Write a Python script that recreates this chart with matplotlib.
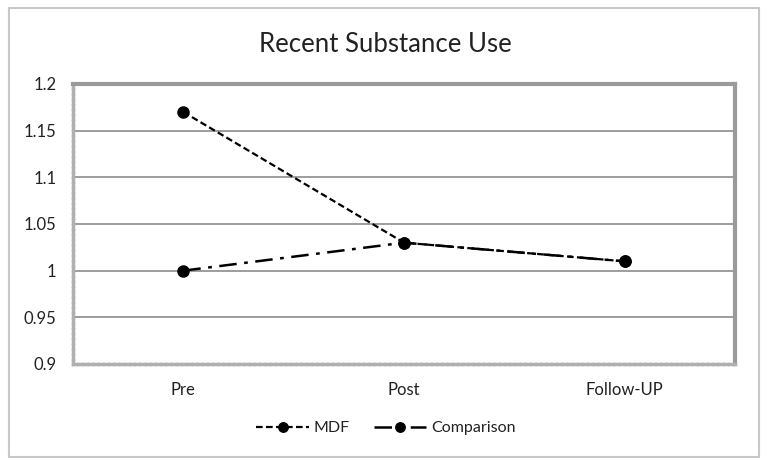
import matplotlib
matplotlib.use("Agg")
import matplotlib.pyplot as plt
from matplotlib.patches import Rectangle

categories = ["Pre", "Post", "Follow-UP"]
mdf = [1.17, 1.03, 1.01]
comparison = [1.00, 1.03, 1.01]
yticks = [0.9, 0.95, 1.0, 1.05, 1.1, 1.15, 1.2]
ytick_labels = ["0.9", "0.95", "1", "1.05", "1.1", "1.15", "1.2"]

plt.rcParams['font.family'] = ['Lato', 'DejaVu Sans']

fig = plt.figure(figsize=(7.69, 4.67), dpi=100)
fig.patches.append(Rectangle((9/769, 10/467), 750/769, 449/467, transform=fig.transFigure,
                             fill=False, edgecolor='#c8c8c8', linewidth=1.5))
ax = fig.add_axes([73/769, 1 - 364/467, 662/769, 280/467])

x = list(range(len(categories)))
ax.plot(x, comparison, color='black', linewidth=1.8, marker='o', markersize=8,
        dashes=(7, 3, 1.5, 3), label='Comparison', zorder=3)
ax.plot(x, mdf, color='black', linewidth=1.6, marker='o', markersize=8,
        dashes=(3, 1.5), label='MDF', zorder=4)

ax.set_xlim(-0.5, 2.5)
ax.set_ylim(0.9, 1.2)
ax.set_yticks(yticks)
ax.set_yticklabels(ytick_labels)
ax.set_xticks(x)
ax.set_xticklabels(categories)
ax.tick_params(axis='both', length=0, labelsize=12, colors='#222222')
ax.tick_params(axis='y', pad=12)
ax.tick_params(axis='x', pad=13)
for yv in yticks[1:-1]:
    ax.axhline(yv, color='#8c8c8c', linewidth=1.2, zorder=1)

for side in ['top', 'right']:
    ax.spines[side].set_color('#9a9a9a')
    ax.spines[side].set_linewidth(3)
for side in ['left', 'bottom']:
    ax.spines[side].set_color('#b0b0b0')
    ax.spines[side].set_linewidth(2.5)
    ax.spines[side].set_linestyle((0, (1, 0.5)))

fig.text(385/769, 1 - 44/467, "Recent Substance Use", ha='center', va='center',
         fontsize=18.5, color='#222222')

handles, labels = ax.get_legend_handles_labels()
leg = fig.legend([handles[1], handles[0]], [labels[1], labels[0]], loc='center',
                 bbox_to_anchor=(386/769, 1 - 428/467), ncol=2, frameon=False,
                 fontsize=11.5, handlelength=3.3, columnspacing=1.5, handletextpad=0.3,
                 markerscale=0.85)
for t in leg.get_texts():
    t.set_color('#222222')

fig.savefig("out.png", dpi=100)
